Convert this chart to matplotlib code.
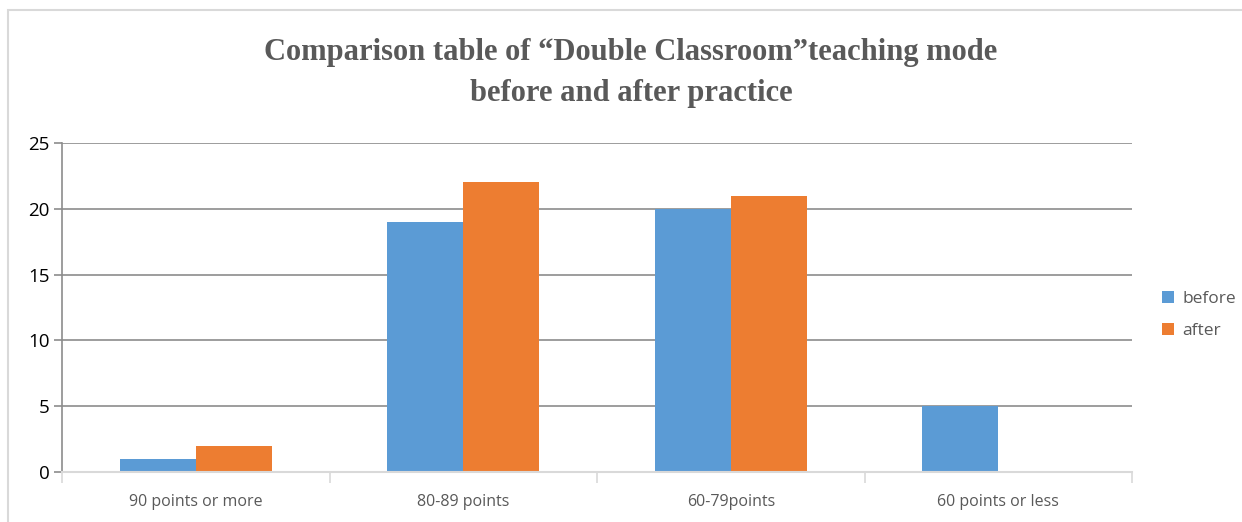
import numpy as np
import matplotlib.pyplot as plt
from matplotlib.patches import Rectangle

# data
categories = ["90 points or more", "80-89 points", "60-79points", "60 points or less"]
before = [1, 19, 20, 5]
after = [2, 22, 21, 0]
series_names = ["before", "after"]
y_ticks = [0, 5, 10, 15, 20, 25]

blue = "#5B9BD5"
orange = "#ED7D31"
grid_gray = "#8C8C8C"
light_gray = "#D9D9D9"
text_gray = "#595959"

fig = plt.figure(figsize=(12.42, 5.22), dpi=100)
ax = fig.add_axes([62 / 1242, 50 / 522, (1132 - 62) / 1242, (472 - 143) / 522])

# outer frame of the chart area
fig.patches.append(Rectangle((8 / 1242, -0.05), 1.1, 0.05 + 512 / 522, transform=fig.transFigure,
                             fill=False, edgecolor=light_gray, linewidth=1.5, zorder=0))

x = np.arange(len(categories))
w = 0.285
ax.bar(x - w / 2, before, w, color=blue, label=series_names[0], zorder=3)
ax.bar(x + w / 2, after, w, color=orange, label=series_names[1], zorder=3)

ax.set_xlim(-0.5, len(categories) - 0.5)
ax.set_ylim(0, 25)
ax.set_yticks(y_ticks)
ax.set_yticklabels([str(v) for v in y_ticks], fontsize=13.5, color="black", family="Open Sans")
ax.yaxis.grid(True, color=grid_gray, linewidth=1.2, zorder=0)
ax.tick_params(axis="y", length=6, width=1.2, color=grid_gray, pad=3)

ax.set_xticks(x)
ax.set_xticklabels(categories, fontsize=11.5, color=text_gray, family="Open Sans")
ax.tick_params(axis="x", which="major", length=0, pad=16)
ax.set_xticks(np.arange(len(categories) + 1) - 0.5, minor=True)
ax.tick_params(axis="x", which="minor", length=8, width=1.2, color=light_gray)

for s in ["top", "right"]:
    ax.spines[s].set_visible(False)
ax.spines["left"].set_color(grid_gray)
ax.spines["left"].set_linewidth(1.2)
ax.spines["bottom"].set_color(light_gray)
ax.spines["bottom"].set_linewidth(1.5)
ax.spines["bottom"].set_zorder(4)

leg = ax.legend(loc="center left", bbox_to_anchor=(1.013, 0.477), frameon=False,
                prop={"family": "Open Sans", "size": 12.5}, handlelength=0.7, handleheight=0.7,
                handletextpad=0.5, labelspacing=0.95)
for t in leg.get_texts():
    t.set_color(text_gray)

fig.text(0.508, 0.86, "Comparison table of \u201cDouble Classroom\u201dteaching mode\nbefore and after practice",
         ha="center", va="center", fontsize=22, fontweight="bold", family="Liberation Serif",
         color=text_gray, linespacing=1.55)

fig.savefig("out.png", dpi=100)
